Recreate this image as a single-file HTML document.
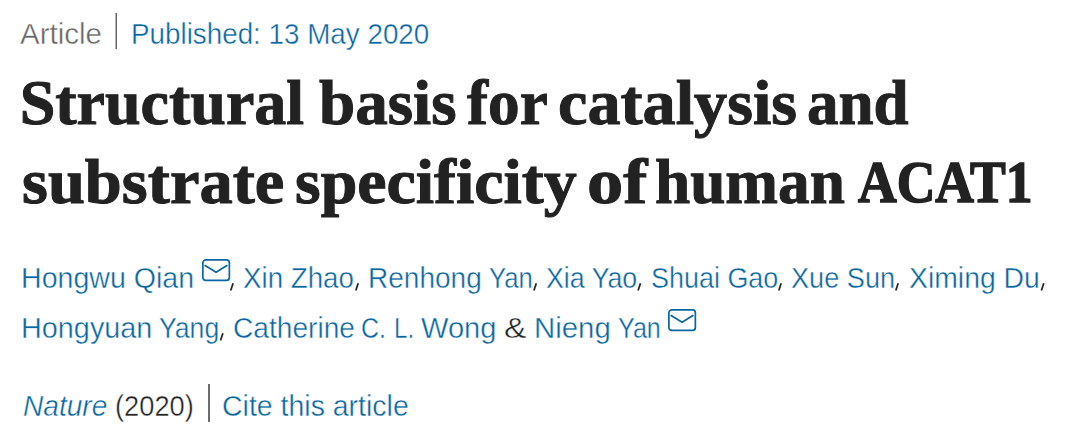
<!DOCTYPE html>
<html><head><meta charset="utf-8">
<style>
html,body{margin:0;padding:0;background:#fff;width:1080px;height:441px;overflow:hidden;position:relative}
.s{position:absolute;white-space:pre;font-family:"Liberation Sans",sans-serif;font-size:29.5px;line-height:34px;transform-origin:0 0;-webkit-text-stroke:0.4px #fff}
.t{position:absolute;white-space:pre;font-family:"Liberation Serif",serif;font-weight:bold;font-size:64.0px;line-height:76px;color:#222;transform-origin:0 0;-webkit-text-stroke:1.0px #222}
.sep{position:absolute;width:1.5px;background:#6f6f6f}
</style></head><body>
<div class="s" style="left:20.00px;top:16.5px;color:#666;transform:scaleX(1.0000)">Article</div>
<div class="s" style="left:131.17px;top:16.5px;color:#0a66a1;transform:scaleX(0.9423)">Published: 13 May 2020</div>
<div class="t" style="left:19.70px;top:65px;color:#222;transform:scaleX(1.0000)">Structural</div>
<div class="t" style="left:319.30px;top:65px;color:#222;transform:scaleX(1.0172)">basis</div>
<div class="t" style="left:466.80px;top:65px;color:#222;transform:scaleX(0.9877)">for</div>
<div class="t" style="left:557.63px;top:65px;color:#222;transform:scaleX(1.0346)">catalysis</div>
<div class="t" style="left:806.53px;top:65px;color:#222;transform:scaleX(0.9851)">and</div>
<div class="t" style="left:22.46px;top:144px;color:#222;transform:scaleX(1.0392)">substrate</div>
<div class="t" style="left:294.57px;top:144px;color:#222;transform:scaleX(1.0293)">specificity</div>
<div class="t" style="left:586.64px;top:144px;color:#222;transform:scaleX(1.1321)">of</div>
<div class="t" style="left:654.71px;top:144px;color:#222;transform:scaleX(0.9885)">human</div>
<div class="t" style="left:858.10px;top:144px;color:#222;transform:scaleX(0.8927);font-size:60px;-webkit-text-stroke:1.6px #222">ACAT1</div>
<div class="s" style="left:21.09px;top:260.5px;color:#0a66a1;transform:scaleX(0.9684)">Hongwu Qian</div>
<div class="s" style="left:243.46px;top:260.5px;color:#0a66a1;transform:scaleX(0.9397)">Xin Zhao</div>
<div class="s" style="left:367.85px;top:260.5px;color:#0a66a1;transform:scaleX(0.9504)">Renhong</div>
<div class="s" style="left:489.13px;top:260.5px;color:#0a66a1;transform:scaleX(0.8702)">Yan</div>
<div class="s" style="left:546.39px;top:260.5px;color:#0a66a1;transform:scaleX(0.9071)">Xia Yao</div>
<div class="s" style="left:650.57px;top:260.5px;color:#0a66a1;transform:scaleX(0.9132)">Shuai Gao</div>
<div class="s" style="left:790.78px;top:260.5px;color:#0a66a1;transform:scaleX(0.9200)">Xue Sun</div>
<div class="s" style="left:909.04px;top:260.5px;color:#0a66a1;transform:scaleX(0.9617)">Ximing Du</div>
<div class="s" style="left:21.07px;top:310.5px;color:#0a66a1;transform:scaleX(0.9767)">Hongyuan</div>
<div class="s" style="left:158.80px;top:310.5px;color:#0a66a1;transform:scaleX(0.9031)">Yang</div>
<div class="s" style="left:232.89px;top:310.5px;color:#0a66a1;transform:scaleX(0.9532)">Catherine</div>
<div class="s" style="left:361.40px;top:310.5px;color:#0a66a1;transform:scaleX(0.8480)">C.</div>
<div class="s" style="left:393.55px;top:310.5px;color:#0a66a1;transform:scaleX(0.8158)">L.</div>
<div class="s" style="left:420.51px;top:310.5px;color:#0a66a1;transform:scaleX(0.9863)">Wong</div>
<div class="s" style="left:503.86px;top:310.5px;color:#222;transform:scaleX(1.1389)">&amp;</div>
<div class="s" style="left:533.71px;top:310.5px;color:#0a66a1;transform:scaleX(0.9958)">Nieng</div>
<div class="s" style="left:618.15px;top:310.5px;color:#0a66a1;transform:scaleX(0.8511)">Yan</div>
<div class="s" style="left:23.05px;top:388.5px;color:#0a66a1;transform:scaleX(0.9517);font-style:italic">Nature</div>
<div class="s" style="left:114.85px;top:388.5px;color:#222;transform:scaleX(0.9235)">(2020)</div>
<div class="s" style="left:222.47px;top:388.5px;color:#0a66a1;transform:scaleX(0.9653)">Cite this article</div>
<div class="sep" style="left:115px;top:13px;height:36px;width:2px;background:linear-gradient(90deg,#b4b4b4 50%,#666 50%)"></div>
<div class="sep" style="left:208px;top:384px;height:38px;width:2px;background:#6b6b6b"></div>
<svg style="position:absolute;left:201.7px;top:258.8px;overflow:visible" width="29" height="23" viewBox="0 0 29 23"><rect x="0.85" y="0.85" width="26.5" height="20.6" rx="3" fill="none" stroke="#0a66a1" stroke-width="1.7"/><path d="M3.1 6.6 L14.1 13.2 L24.9 6.6" fill="none" stroke="#0a66a1" stroke-width="1.7" stroke-linecap="round" stroke-linejoin="round"/></svg>
<svg style="position:absolute;left:0;top:0;overflow:visible" width="1" height="1"><line x1="233.1" y1="283.3" x2="230.7" y2="290.5" stroke="#262626" stroke-width="1.75"/></svg>
<svg style="position:absolute;left:0;top:0;overflow:visible" width="1" height="1"><line x1="358.2" y1="283.3" x2="355.8" y2="290.5" stroke="#262626" stroke-width="1.75"/></svg>
<svg style="position:absolute;left:0;top:0;overflow:visible" width="1" height="1"><line x1="536.3" y1="283.3" x2="533.9" y2="290.5" stroke="#262626" stroke-width="1.75"/></svg>
<svg style="position:absolute;left:0;top:0;overflow:visible" width="1" height="1"><line x1="640.5" y1="283.3" x2="638.1" y2="290.5" stroke="#262626" stroke-width="1.75"/></svg>
<svg style="position:absolute;left:0;top:0;overflow:visible" width="1" height="1"><line x1="781.2" y1="283.3" x2="778.8" y2="290.5" stroke="#262626" stroke-width="1.75"/></svg>
<svg style="position:absolute;left:0;top:0;overflow:visible" width="1" height="1"><line x1="898.2" y1="283.3" x2="895.8" y2="290.5" stroke="#262626" stroke-width="1.75"/></svg>
<svg style="position:absolute;left:0;top:0;overflow:visible" width="1" height="1"><line x1="1043.8" y1="283.3" x2="1041.4" y2="290.5" stroke="#262626" stroke-width="1.75"/></svg>
<svg style="position:absolute;left:0;top:0;overflow:visible" width="1" height="1"><line x1="222.9" y1="333.3" x2="220.5" y2="340.5" stroke="#262626" stroke-width="1.75"/></svg>
<svg style="position:absolute;left:667.9px;top:308.7px;overflow:visible" width="29" height="23" viewBox="0 0 29 23"><rect x="0.85" y="0.85" width="26.5" height="20.6" rx="3" fill="none" stroke="#0a66a1" stroke-width="1.7"/><path d="M3.1 6.6 L14.1 13.2 L24.9 6.6" fill="none" stroke="#0a66a1" stroke-width="1.7" stroke-linecap="round" stroke-linejoin="round"/></svg>
</body></html>
